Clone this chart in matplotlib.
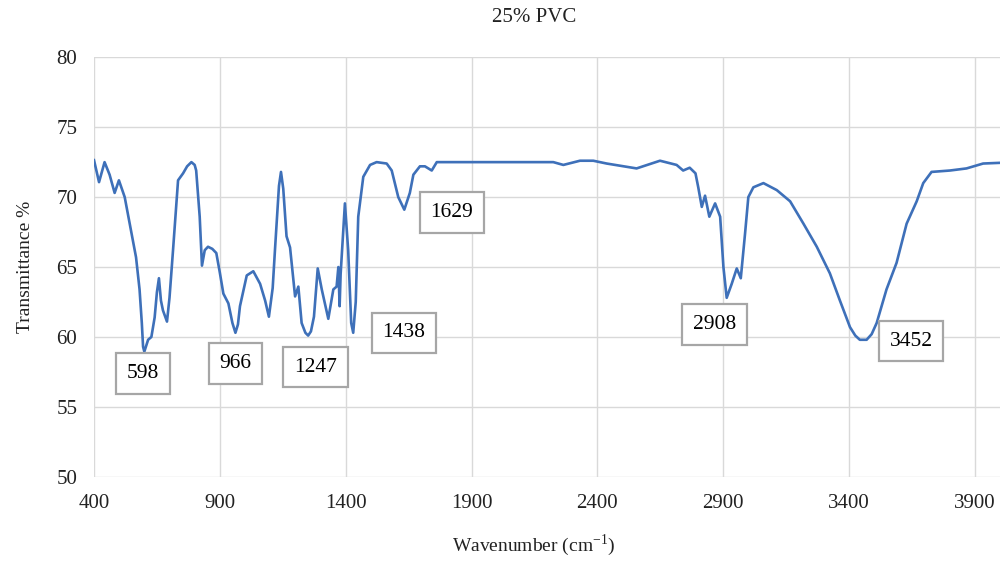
import matplotlib
matplotlib.use('Agg')
import matplotlib.pyplot as plt

# wavenumber (cm-1) and transmittance (%)
wavenumber = [400, 420, 442, 462, 482, 499, 522, 547, 567, 581, 590, 595, 600, 606, 615, 628, 641,
              650, 658, 666, 674, 690, 700, 714, 734, 754, 770, 787, 800, 806, 820, 829, 840,
              853, 870, 886, 900, 914, 934, 950, 962, 972, 980, 1007, 1033, 1060, 1080, 1095,
              1110, 1119, 1135, 1143, 1152, 1165, 1179, 1199, 1212, 1225, 1240, 1251, 1262,
              1274, 1289, 1305, 1331, 1351, 1364, 1371, 1376, 1380, 1397, 1410, 1422, 1430,
              1440, 1450, 1470, 1497, 1523, 1563, 1583, 1609, 1633, 1655, 1669, 1695, 1715,
              1742, 1762, 1881, 2013, 2225, 2265, 2331, 2384, 2437, 2556, 2649, 2715, 2741,
              2767, 2790, 2801, 2815, 2828, 2845, 2868, 2888, 2901, 2914, 2934, 2954, 2970,
              2987, 3000, 3020, 3060, 3113, 3166, 3219, 3272, 3324, 3364, 3404, 3425, 3443,
              3470, 3490, 3510, 3549, 3589, 3629, 3669, 3695, 3728, 3801, 3867, 3933, 4000]
transmittance = [72.64, 71.07, 72.5, 71.6, 70.3, 71.2, 70.0, 67.6, 65.7, 63.4, 61.0, 59.3, 58.95,
                 59.3, 59.8, 60.0, 61.4, 63.2, 64.2, 62.6, 61.9, 61.1, 62.8, 66.2, 71.2, 71.7,
                 72.2, 72.5, 72.3, 71.9, 68.6, 65.1, 66.2, 66.45, 66.3, 66.0, 64.6, 63.1, 62.4,
                 61.0, 60.3, 60.9, 62.2, 64.4, 64.7, 63.8, 62.6, 61.45, 63.5, 66.2, 70.8, 71.8,
                 70.6, 67.2, 66.4, 62.9, 63.6, 61.0, 60.3, 60.1, 60.4, 61.45, 64.9, 63.4, 61.3,
                 63.4, 63.6, 65.0, 62.2, 64.5, 69.55, 66.2, 61.0, 60.3, 62.5, 68.6, 71.45, 72.3,
                 72.5, 72.4, 71.9, 70.0, 69.1, 70.3, 71.6, 72.2, 72.2, 71.9, 72.5, 72.5, 72.5,
                 72.5, 72.3, 72.6, 72.6, 72.4, 72.05, 72.6, 72.3, 71.9, 72.1, 71.7, 70.7, 69.3,
                 70.1, 68.6, 69.55, 68.6, 65.0, 62.8, 63.8, 64.9, 64.2, 67.4, 70.0, 70.7, 71.0,
                 70.5, 69.7, 68.1, 66.45, 64.55, 62.6, 60.7, 60.1, 59.8, 59.8, 60.2, 61.0, 63.4,
                 65.3, 68.1, 69.7, 71.0, 71.8, 71.9, 72.05, 72.4, 72.45]

# peak labels and where their boxes sit
peak_labels = ['598', '966', '1247', '1438', '1629', '2908', '3452']
label_x = [595, 962, 1280, 1632, 1822, 2867, 3646]
label_y = [57.4, 58.1, 57.85, 60.3, 68.9, 60.9, 59.7]

plt.rcParams['font.family'] = ['Liberation Serif', 'DejaVu Serif']
plt.rcParams['mathtext.fontset'] = 'stix'

fig = plt.figure(figsize=(10, 5.61), dpi=100)
ax = fig.add_axes([0.094, 0.15, 0.906, 0.748])

ax.plot(wavenumber, transmittance, color='#3e70b9', linewidth=1.9, zorder=3)

for lab, x, y in zip(peak_labels, label_x, label_y):
    ax.text(x, y, lab, ha='center', va='center', fontsize=15.5, zorder=4,
            bbox=dict(boxstyle='square,pad=0.5', facecolor='white',
                      edgecolor='#a6a6a6', linewidth=1.6))

ax.set_xlim(400, 4000)
ax.set_ylim(50, 80)
ax.set_xticks([400, 900, 1400, 1900, 2400, 2900, 3400, 3900])
ax.set_yticks([50, 55, 60, 65, 70, 75, 80])
ax.grid(True, color='#d9d9d9', linewidth=1.0)
ax.set_axisbelow(True)
for s in ax.spines.values():
    s.set_visible(False)
ax.tick_params(length=0, labelsize=15, colors='#222222')
ax.tick_params(axis='y', pad=12)
ax.tick_params(axis='x', pad=12)

# title and x label are centred on the full chart area, not the plot area
fig.text(0.534, 0.968, '25% PVC', ha='center', va='center', fontsize=15, color='#222222')
fig.text(0.534, 0.028, 'Wavenumber (cm$^{\\mathregular{-1}}$)', ha='center', va='center',
         fontsize=14, color='#222222')
ax.set_ylabel('Transmittance %', fontsize=14, labelpad=16, color='#222222')

fig.savefig('out.png', dpi=100)
